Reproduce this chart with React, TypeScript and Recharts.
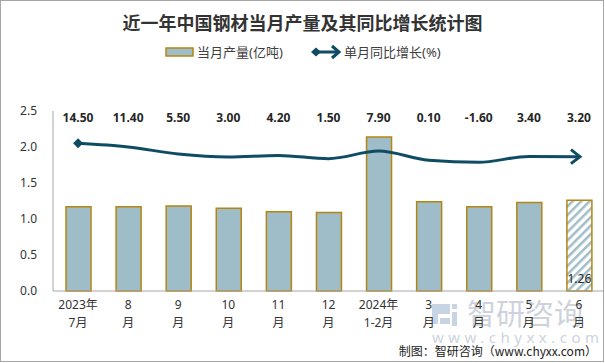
import { ComposedChart, Bar, Line, XAxis, YAxis, Cell, LabelList } from "recharts";

// 近一年中国钢材当月产量及其同比增长
const months = ["2023年\n7月", "8\n月", "9\n月", "10\n月", "11\n月", "12\n月", "2024年\n1-2月", "3\n月", "4\n月", "5\n月", "6\n月"];
const output = [1.17, 1.17, 1.18, 1.15, 1.1, 1.09, 2.14, 1.24, 1.17, 1.23, 1.26];
const growth = [14.5, 11.4, 5.5, 3.0, 4.2, 1.5, 7.9, 0.1, -1.6, 3.4, 3.2];
const yTicks = [0, 0.5, 1, 1.5, 2, 2.5];

const data = months.map((m, i) => ({ month: m, output: output[i], growth: growth[i] }));

const FONT = "'Noto Sans', 'Noto Sans CJK SC', sans-serif";
const BAR = "#9fbcc9";
const BAR_EDGE = "#b5850f";
const LINE = "#0e4c64";
const last = months.length - 1;

function MonthTick(props: any) {
  const { x, y, payload } = props;
  const lines = String(payload.value).split("\n");
  return (
    <text x={x} y={y} textAnchor="middle" fontSize={12} fill="#333" fontFamily={FONT}>
      {lines.map((l, i) => (
        <tspan key={i} x={x} dy={i === 0 ? 14 : 18}>
          {l}
        </tspan>
      ))}
    </text>
  );
}

function LineDot(props: any) {
  const { cx, cy, index } = props;
  if (index === 0) {
    return <path d={`M${cx - 5},${cy} L${cx},${cy - 5} L${cx + 5},${cy} L${cx},${cy + 5} Z`} fill={LINE} />;
  }
  if (index === last) {
    return (
      <path
        d={`M${cx - 8},${cy - 7} L${cx + 1},${cy} L${cx - 8},${cy + 7}`}
        fill="none"
        stroke={LINE}
        strokeWidth={3}
      />
    );
  }
  return <g />;
}

export default function App() {
  return (
    <div style={{ position: "absolute", left: 0, top: 0, width: 605, height: 363, background: "#fff", fontFamily: FONT }}>
      <div
        style={{
          position: "absolute",
          left: 0,
          top: 0,
          width: 602,
          height: 360,
          border: "1px solid #a6a6a6",
        }}
      />
      {/* watermark */}
      <div style={{ position: "absolute", left: 430, top: 296, color: "#c9cfd8", opacity: 0.9 }}>
        <svg width={28} height={28} style={{ position: "absolute", left: 0, top: 4 }}>
          <path d="M2,4 H20 V14 H8 V24 H2 Z" fill="#c0d0e2" />
          <rect x={22} y={4} width={5} height={5} fill="#c0d0e2" />
          <rect x={22} y={12} width={5} height={14} fill="#c0d0e2" />
          <rect x={10} y={18} width={10} height={6} fill="#c0d0e2" />
        </svg>
        <div style={{ position: "absolute", left: 37, top: 0, fontSize: 29, lineHeight: "36px", whiteSpace: "nowrap" }}>智研咨询</div>
        <div style={{ position: "absolute", left: 2, top: 31, fontSize: 15, letterSpacing: 4.5, whiteSpace: "nowrap" }}>
          www.chyxx.com
        </div>
      </div>
      <div
        style={{
          position: "absolute",
          left: 0,
          top: 9,
          width: 605,
          textAlign: "center",
          fontSize: 18,
          fontWeight: "bold",
          color: "#333",
          fontFamily: "'Noto Sans CJK SC', sans-serif",
        }}
      >
        近一年中国钢材当月产量及其同比增长统计图
      </div>
      <svg width={605} height={70} style={{ position: "absolute", left: 0, top: 0 }}>
        <rect x={166} y={48} width={27} height={8} fill={BAR} stroke={BAR_EDGE} strokeWidth={1.5} />
        <text x={197} y={57} fontSize={13} fill="#404040" fontFamily={FONT}>
          当月产量(亿吨)
        </text>
        <line x1={316} y1={52} x2={338} y2={52} stroke={LINE} strokeWidth={3} />
        <path d="M311,52 L316,47.5 L321,52 L316,56.5 Z" fill={LINE} />
        <path d="M332,46 L339,52 L332,58" fill="none" stroke={LINE} strokeWidth={3} />
        <text x={344} y={57} fontSize={13} fill="#404040" fontFamily={FONT}>
          单月同比增长(%)
        </text>
      </svg>
      <div style={{ position: "absolute", left: 0, top: 0 }}>
        <ComposedChart width={605} height={363} data={data} margin={{ top: 111, right: 1, left: 0, bottom: 32 }}>
          <defs>
            <pattern id="hatch" patternUnits="userSpaceOnUse" width={6} height={6} patternTransform="rotate(45)">
              <rect width={6} height={6} fill="#fff" />
              <rect width={2.5} height={6} fill={BAR} />
            </pattern>
          </defs>
          <XAxis
            dataKey="month"
            axisLine={{ stroke: "#a6a6a6" }}
            tickLine={false}
            tickSize={0}
            tickMargin={4}
            height={40}
            interval={0}
            tick={<MonthTick />}
          />
          <YAxis
            yAxisId="left"
            domain={[0, 2.5]}
            ticks={yTicks}
            tickFormatter={(v: number) => v.toFixed(1)}
            axisLine={{ stroke: "#a6a6a6" }}
            tickLine={false}
            tickSize={0}
            tickMargin={16}
            width={53}
            tick={{ fontSize: 12, fill: "#333", fontFamily: FONT }}
          />
          <YAxis yAxisId="right" orientation="right" domain={[-111, 42]} hide />
          <Bar yAxisId="left" dataKey="output" barSize={25} fill={BAR} stroke={BAR_EDGE} strokeWidth={1.5} isAnimationActive={false}>
            {data.map((_, i) => (
              <Cell key={i} fill={i === last ? "url(#hatch)" : BAR} />
            ))}
            <LabelList
              dataKey="output"
              content={(p: any) =>
                p.index === last ? (
                  <text
                    x={p.x + p.width / 2}
                    y={p.y + p.height - 8}
                    textAnchor="middle"
                    fontSize={12}
                    fill="#262626"
                    fontFamily={FONT}
                  >
                    {Number(p.value).toFixed(2)}
                  </text>
                ) : null
              }
            />
          </Bar>
          <Line
            yAxisId="right"
            dataKey="growth"
            type="monotone"
            stroke={LINE}
            strokeWidth={3}
            dot={<LineDot />}
            activeDot={false}
            isAnimationActive={false}
          >
            <LabelList
              dataKey="growth"
              content={(p: any) => (
                <text x={p.x} y={122} textAnchor="middle" fontSize={12} fontWeight="bold" fill="#262626" fontFamily={FONT}>
                  {Number(p.value).toFixed(2)}
                </text>
              )}
            />
          </Line>
        </ComposedChart>
      </div>
      <div
        style={{
          position: "absolute",
          right: 8,
          top: 342,
          fontSize: 12,
          color: "#222",
          whiteSpace: "nowrap",
          fontFamily: "'Noto Sans CJK SC', sans-serif",
        }}
      >
        制图：智研咨询（www.chyxx.com）
      </div>
    </div>
  );
}
